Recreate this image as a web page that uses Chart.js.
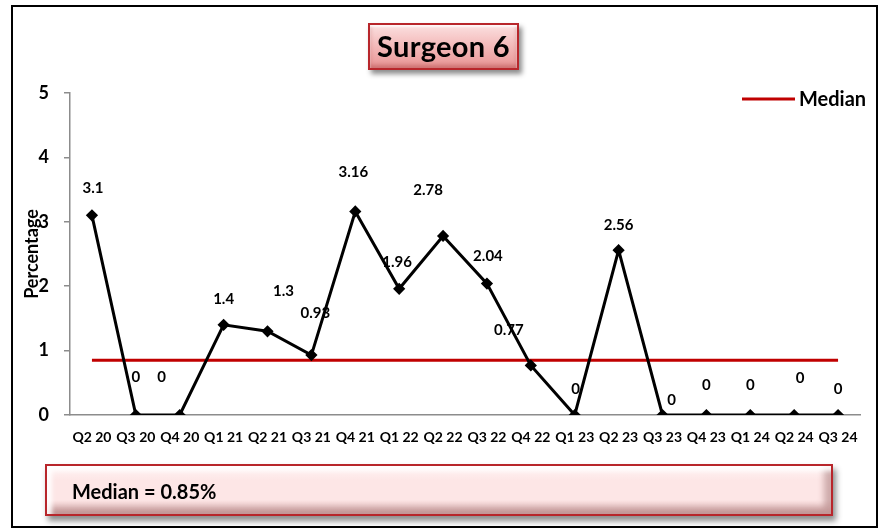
<!DOCTYPE html>
<html>
<head>
<meta charset="utf-8">
<title>Surgeon 6</title>
<script src="https://cdn.jsdelivr.net/npm/chart.js@4.4.1/dist/chart.umd.min.js"></script>
<style>
  body { margin: 0; background: #fff; }
  #wrap { position: relative; width: 880px; height: 530px; font-family: Lato, "Open Sans", sans-serif; }
  #frame { position: absolute; left: 11px; top: 5px; width: 863px; height: 519px; border: 2px solid #000; box-sizing: content-box; pointer-events: none; }
  #chart { position: absolute; left: 0; top: 0; }
  .box {
    position: absolute; box-sizing: border-box; border: 2px solid #b8262b;
    font-weight: bold; color: #000;
  }
  #titleBox {
    left: 368px; top: 23px; width: 151px; height: 47px;
    background: linear-gradient(#fbe0e0 0%, #f4bcbc 45%, #e99595 100%);
    box-shadow: 3px 4px 5px rgba(0,0,0,0.45), inset 0 2px 2px rgba(255,255,255,0.8), inset 0 -3px 4px rgba(150,40,40,0.35);
    font-size: 29px; line-height: 42px; text-align: center; letter-spacing: 0.3px;
  }
  #medianBox {
    left: 45px; top: 464px; width: 788px; height: 52px;
    background: linear-gradient(#fff4f4 0%, #fde6e6 30%, #fde6e6 70%, #e9c4c4 100%);
    box-shadow: 3px 5px 6px rgba(0,0,0,0.45), inset 5px 5px 4px rgba(255,255,255,0.9), inset -7px -7px 6px rgba(120,60,60,0.35);
    font-size: 20px; line-height: 50px; padding-left: 25px;
  }
</style>
</head>
<body>
<div id="wrap">
  <canvas id="chart" width="880" height="530"></canvas>
  <div id="frame"></div>
  <div id="titleBox" class="box">Surgeon 6</div>
  <div id="medianBox" class="box">Median = 0.85%</div>
</div>
<script>
const quarters = ['Q2 20', 'Q3 20', 'Q4 20', 'Q1 21', 'Q2 21', 'Q3 21', 'Q4 21', 'Q1 22', 'Q2 22',
                  'Q3 22', 'Q4 22', 'Q1 23', 'Q2 23', 'Q3 23', 'Q4 23', 'Q1 24', 'Q2 24', 'Q3 24'];
const percentage = [3.1, 0, 0, 1.4, 1.3, 0.93, 3.16, 1.96, 2.78, 2.04, 0.77, 0, 2.56, 0, 0, 0, 0, 0];
const medianValue = 0.85;
const yTicks = [0, 1, 2, 3, 4, 5];

// hand-placed offsets (px) of each value label from its point
const labelNudge = [
  [1, -27], [0, -38], [-18, -38], [0, -26], [16, -40], [4, -42], [-2, -39], [-2, -27], [-15, -46],
  [1, -27], [-22, -35], [1, -26], [0, -25], [9, -15], [0, -30], [0, -30], [6, -37], [0, -26]
];

const FONT = 'Lato, "Open Sans", sans-serif';
const AXIS_GREY = '#8c8c8c';
const MEDIAN_RED = '#c00000';

const valueLabels = {
  id: 'valueLabels',
  beforeDatasetsDraw(chart) {
    const ctx = chart.ctx;
    const meta = chart.getDatasetMeta(0);
    ctx.save();
    ctx.font = 'bold 15px ' + FONT;
    ctx.fillStyle = '#000';
    ctx.textAlign = 'center';
    ctx.textBaseline = 'middle';
    meta.data.forEach((pt, i) => {
      const [dx, dy] = labelNudge[i];
      ctx.fillText(String(percentage[i]), pt.x + dx, pt.y + dy);
    });
    ctx.restore();
  },
  afterDraw(chart) {
    // legend entry for the median line, top right inside the plot
    const ctx = chart.ctx;
    ctx.save();
    ctx.strokeStyle = MEDIAN_RED;
    ctx.lineWidth = 3;
    ctx.beginPath();
    ctx.moveTo(742, 99);
    ctx.lineTo(795, 99);
    ctx.stroke();
    ctx.font = 'bold 20px ' + FONT;
    ctx.fillStyle = '#000';
    ctx.textBaseline = 'middle';
    ctx.fillText(chart.data.datasets[1].label, 799, 100);
    ctx.restore();
  }
};

new Chart(document.getElementById('chart'), {
  type: 'line',
  data: {
    labels: quarters,
    datasets: [{
      label: 'Percentage',
      data: percentage,
      borderColor: '#000',
      backgroundColor: '#000',
      borderWidth: 3,
      pointStyle: 'rectRot',
      pointRadius: 4,
      tension: 0
    }, {
      label: 'Median',
      data: quarters.map(() => medianValue),
      borderColor: MEDIAN_RED,
      borderWidth: 3,
      pointRadius: 0,
      tension: 0
    }]
  },
  options: {
    responsive: false,
    animation: false,
    layout: { padding: { left: 0, right: 20, top: 93, bottom: 85 } },
    plugins: {
      legend: { display: false },
      tooltip: { enabled: false }
    },
    scales: {
      x: {
        offset: true,
        grid: { display: true, drawOnChartArea: false, drawTicks: false },
        border: { color: AXIS_GREY, width: 1.5 },
        ticks: {
          color: '#000', font: { family: FONT, size: 14, weight: 'bold' },
          padding: 14, maxRotation: 0, autoSkip: false
        },
        afterFit: s => { s.height = 30; }
      },
      y: {
        min: 0,
        max: 5,
        afterBuildTicks: s => { s.ticks = yTicks.map(v => ({ value: v })); },
        grid: { drawOnChartArea: false, tickLength: 6, color: AXIS_GREY, lineWidth: 1.5 },
        border: { color: AXIS_GREY, width: 1.5 },
        ticks: { color: '#000', font: { family: FONT, size: 18, weight: 'bold' }, padding: 15 },
        title: {
          display: true, text: 'Percentage', color: '#000',
          font: { family: FONT, size: 18, weight: 'bold' },
          padding: { top: 21, bottom: 0 }
        },
        afterFit: s => { s.width = 70; }
      }
    }
  },
  plugins: [valueLabels]
});
</script>
</body>
</html>
